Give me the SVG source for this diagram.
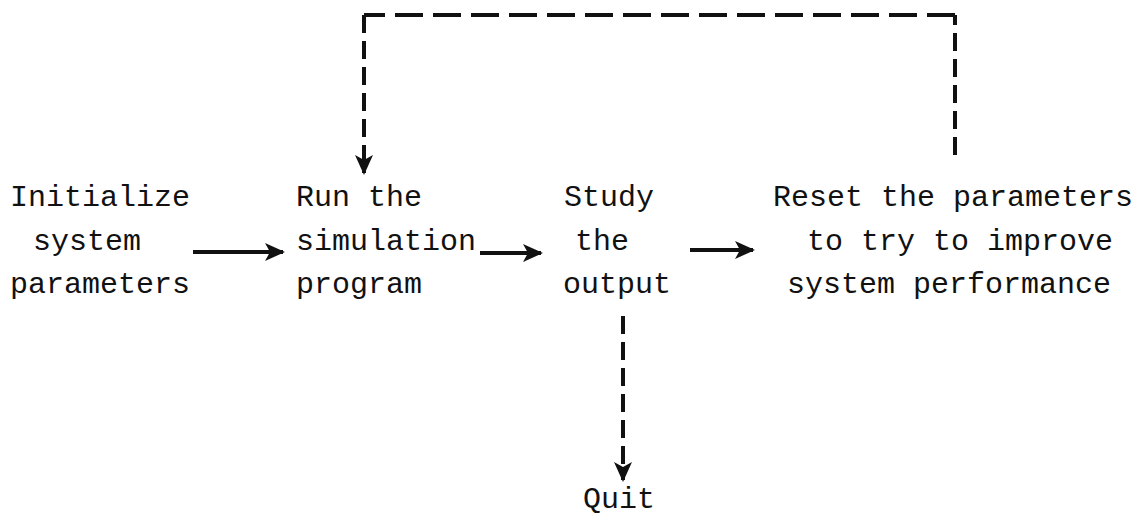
<svg xmlns="http://www.w3.org/2000/svg" width="1148" height="521" viewBox="0 0 1148 521">
  <style>
    .t { font-family: "Liberation Mono", "DejaVu Sans Mono", monospace; font-size: 30px; fill: #111; }
    .solid { stroke: #111; stroke-width: 4; fill: none; }
    .dash { stroke: #111; stroke-width: 4; fill: none; stroke-dasharray: 18 8; }
    .dashh { stroke: #111; stroke-width: 4; fill: none; stroke-dasharray: 28 10; }
  </style>
  <defs>
    <marker id="head" viewBox="0 0 10 10" refX="9" refY="5" markerWidth="5" markerHeight="5" orient="auto" markerUnits="strokeWidth">
      <path d="M0,0.5 L10,5 L0,9.5 L2.5,5 Z" fill="#111"/>
    </marker>
  </defs>
  <rect width="1148" height="521" fill="#fff"/>

  <g id="node-initialize">
    <text class="t" x="10" y="206">Initialize</text>
    <text class="t" x="33" y="250">system</text>
    <text class="t" x="10" y="293">parameters</text>
  </g>
  <g id="node-run">
    <text class="t" x="296" y="206">Run the</text>
    <text class="t" x="296" y="250">simulation</text>
    <text class="t" x="296" y="293">program</text>
  </g>
  <g id="node-study">
    <text class="t" x="564" y="206">Study</text>
    <text class="t" x="575" y="250">the</text>
    <text class="t" x="563" y="293">output</text>
  </g>
  <g id="node-reset">
    <text class="t" x="773" y="206">Reset the parameters</text>
    <text class="t" x="807" y="250">to try to improve</text>
    <text class="t" x="787" y="293">system performance</text>
  </g>
  <g id="node-quit">
    <text class="t" x="583" y="508">Quit</text>
  </g>

  <g id="connectors">
    <line class="solid" x1="193" y1="252" x2="283" y2="252" marker-end="url(#head)"/>
    <line class="solid" x1="480" y1="253" x2="541" y2="253" marker-end="url(#head)"/>
    <line class="solid" x1="690" y1="250" x2="753" y2="250" marker-end="url(#head)"/>
    <line class="dash" x1="955" y1="155" x2="955" y2="15"/>
    <line class="dashh" x1="955" y1="15" x2="364" y2="15"/>
    <line class="dash" x1="364" y1="15" x2="364" y2="173" marker-end="url(#head)"/>
    <line class="dash" x1="623" y1="316" x2="623" y2="480" marker-end="url(#head)"/>
  </g>
</svg>
